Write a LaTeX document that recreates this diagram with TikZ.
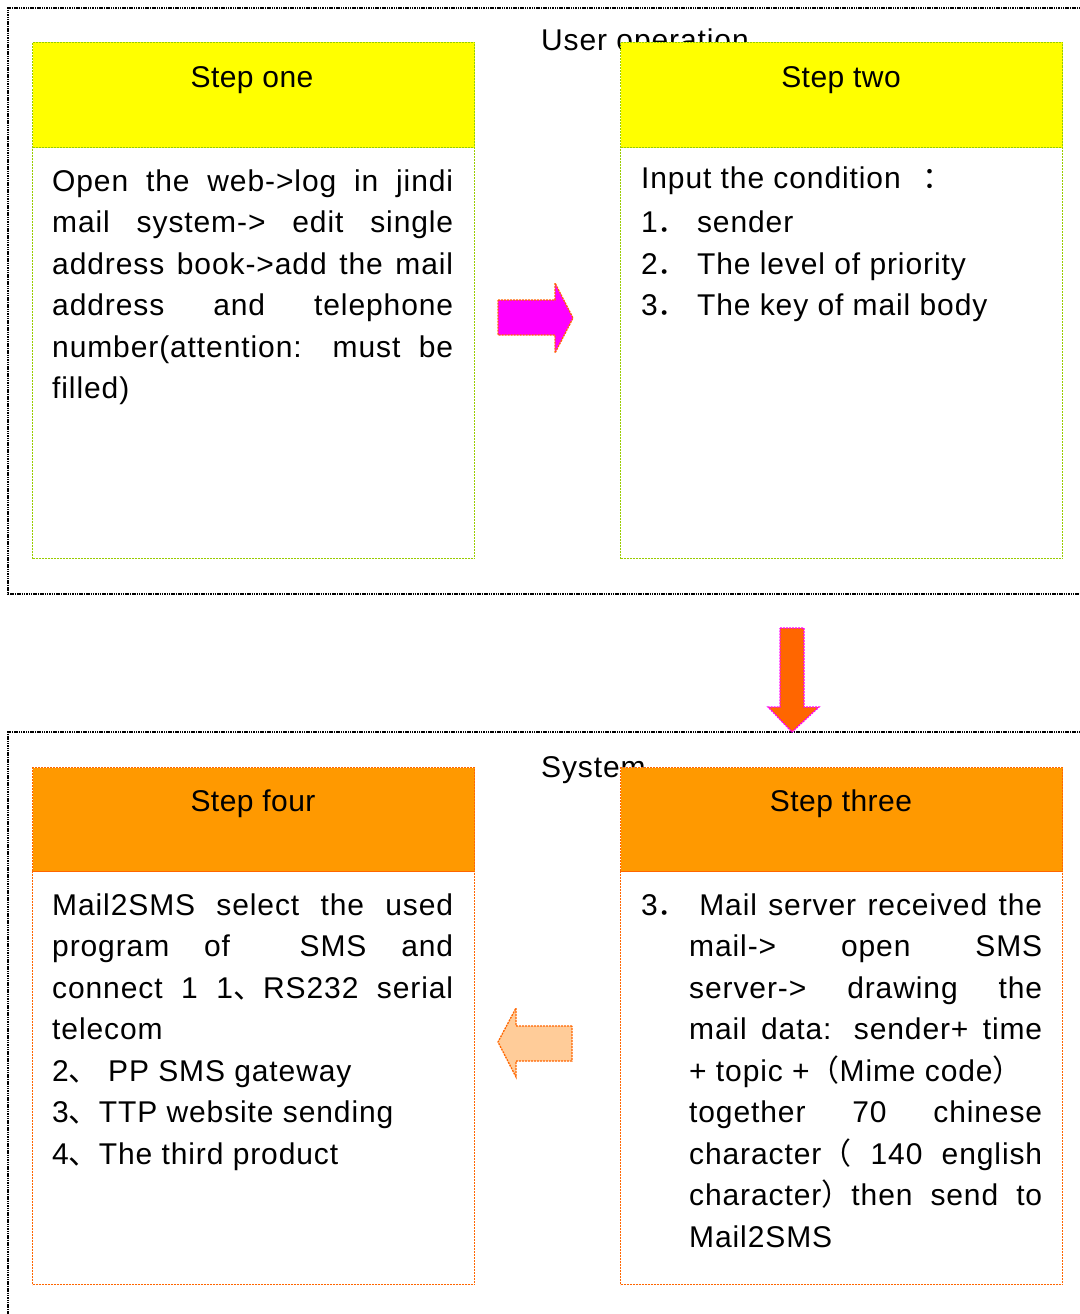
\documentclass[tikz,border=0pt]{standalone}
\usepackage{fontspec}
\setmainfont{Liberation Sans}
\newfontfamily\bodyfont[LetterSpace=3]{Liberation Sans}
\newfontfamily\headfont[LetterSpace=1.5]{Liberation Sans}
\newfontfamily\cjk{Noto Sans CJK SC}
\definecolor{ygreen}{HTML}{99CC00}
\definecolor{yfill}{HTML}{FFFF00}
\definecolor{ofill}{HTML}{FF9900}
\definecolor{oline}{HTML}{FF6600}
\definecolor{mag}{HTML}{FF00FF}
\definecolor{lorange}{HTML}{FFCC99}
\newcommand\jline[1]{\makebox[\linewidth][s]{#1}\par}
\newcommand\iline[1]{\hspace*{48pt}\makebox[353pt][s]{#1}\par}
\newcommand\fw[1]{{\cjk #1}}
\begin{document}
\begin{tikzpicture}[x=1pt,y=-1pt,
  outer/.style={draw=black, line width=1.3pt, dash pattern=on 1.5pt off 0.8pt},
  ybox/.style={draw=ygreen, line width=1pt, dash pattern=on 2pt off 1pt, anchor=north west, minimum width=442pt, inner sep=0pt},
  obox/.style={draw=oline, line width=1pt, dash pattern=on 2pt off 1pt, anchor=north west, minimum width=442pt, inner sep=0pt},
  big/.style={font=\fontsize{30}{41.5}\bodyfont, inner sep=0pt},
  head/.style={font=\fontsize{30}{41.5}\headfont, inner sep=0pt, anchor=base},
  arr/.style={line width=1.3pt, dash pattern=on 2pt off 1pt, line join=miter}
]
\useasboundingbox (0,0) rectangle (1079,1314);
\fill[white] (0,0) rectangle (1079,1314);

% outer frames
\draw[outer] (1085,8) -- (8,8) -- (8,594) -- (1085,594);
\draw[outer] (1085,732) -- (8,732) -- (8,1320);
\node[big, anchor=base west] (lbl1) at (541,51) {User operation};
\node[big, anchor=base west] (lbl2) at (541,777) {System};

% step one
\node[ybox, fill=yfill, minimum height=105pt] (h1) at (32,42) {};
\node[ybox, fill=white, minimum height=411pt] (b1) at (32,147) {};
\node[head] (s1) at (252,88) {Step one};
\node[big, anchor=base west] (t1) at (52,191) {\parbox[t]{401pt}{%
\jline{Open the web->log in jindi}
\jline{mail system-> edit single}
\jline{address book->add the mail}
\jline{address and telephone}
\jline{number(attention: must be}
filled)\par}};

% step two
\node[ybox, fill=yfill, minimum height=105pt] (h2) at (620,42) {};
\node[ybox, fill=white, minimum height=411pt] (b2) at (620,147) {};
\node[head] (s2) at (841,88) {Step two};
\node[big, anchor=base west] (t2) at (641,188) {\parbox[t]{401pt}{%
Input the condition\hspace{22pt}\fw{：}\par\vspace{3pt}
1\fw{．} sender\par
2\fw{．} The level of priority\par
3\fw{．} The key of mail body\par}};

% step three
\node[obox, fill=ofill, minimum height=104pt] (h3) at (620,767) {};
\node[obox, fill=white, minimum height=413pt] (b3) at (620,871) {};
\node[head] (s3) at (841,811) {Step three};
\node[big, anchor=base west] (t3) at (641,915) {\parbox[t]{401pt}{%
\jline{3\fw{．} Mail server received the}
\iline{mail->\hfill open\hfill SMS}
\iline{server->\hfill drawing\hfill the}
\iline{mail data: sender+ time}
\hspace*{48pt}+ topic +\fw{（}Mime code\fw{）}\par
\iline{together\hfill 70\hfill chinese}
\iline{character\fw{（} 140 english}
\iline{character\fw{）}then send to}
\hspace*{48pt}Mail2SMS\par}};

% step four
\node[obox, fill=ofill, minimum height=104pt] (h4) at (32,767) {};
\node[obox, fill=white, minimum height=413pt] (b4) at (32,871) {};
\node[head] (s4) at (253,811) {Step four};
\node[big, anchor=base west] (t4) at (52,915) {\parbox[t]{401pt}{%
\jline{Mail2SMS select the used}
\jline{program\hfill of\hfill\hfill SMS\hfill and}
\jline{connect 1 1\fw{、}RS232 serial}
telecom\par
2\fw{、} PP SMS gateway\par
3\fw{、}TTP website sending\par
4\fw{、}The third product\par}};

% block arrows
\draw[arr, draw=oline, fill=mag] (498,300) -- (555,300) -- (555,283) -- (573,318)
  -- (555,353) -- (555,335) -- (498,335) -- cycle;
\draw[arr, draw=mag, fill=oline] (780,628) -- (804,628) -- (804,707) -- (819,707)
  -- (792,732) -- (768,707) -- (780,707) -- cycle;
\draw[arr, draw=oline, fill=lorange] (572,1026) -- (516,1026) -- (516,1008) -- (498,1042)
  -- (516,1077) -- (516,1061) -- (572,1061) -- cycle;
\end{tikzpicture}
\end{document}
